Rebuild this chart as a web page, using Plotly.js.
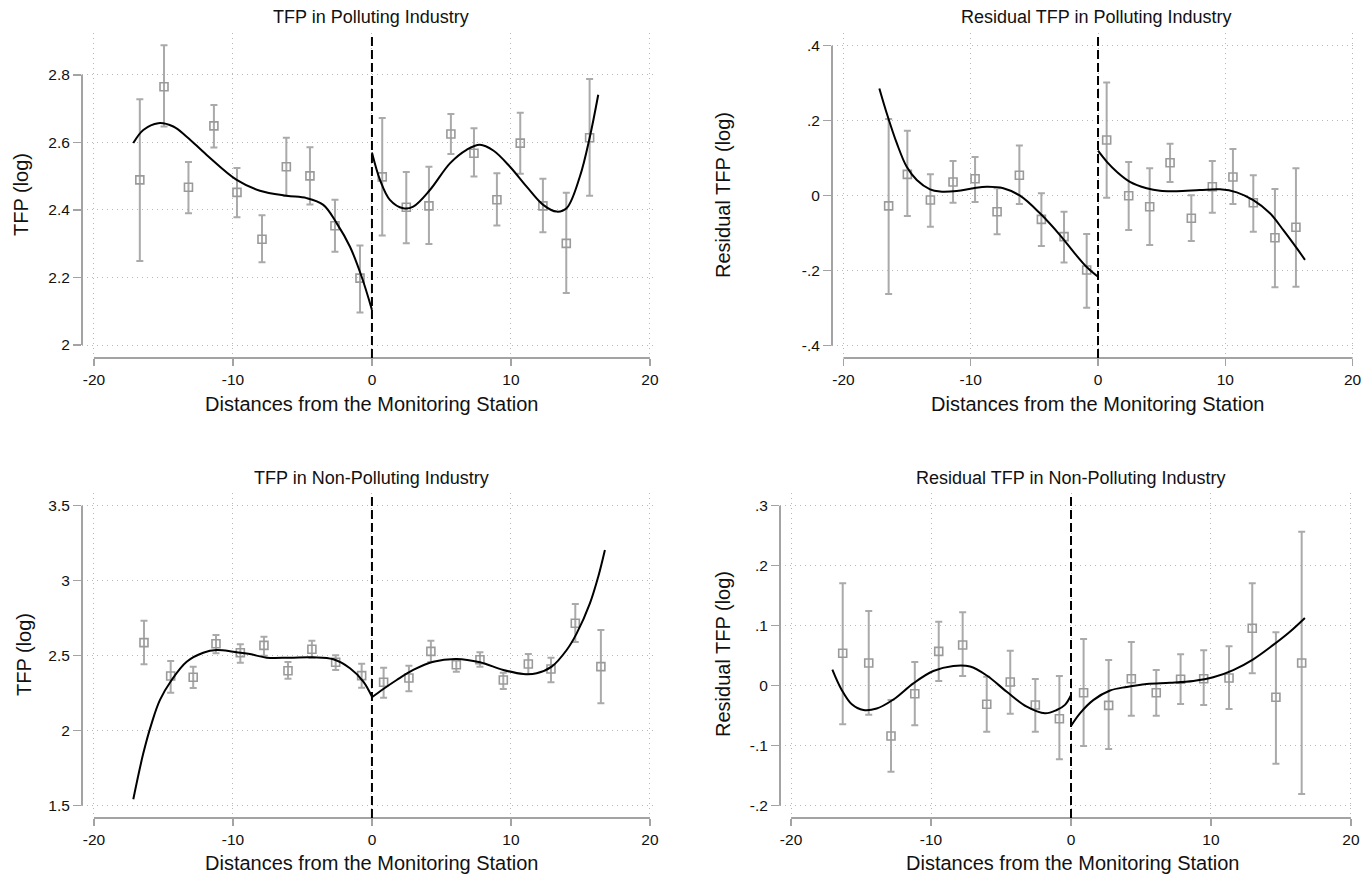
<!DOCTYPE html>
<html>
<head>
<meta charset="utf-8">
<script src="https://cdn.plot.ly/plotly-3.0.1.min.js"></script>
<style>html,body{margin:0;padding:0;background:#fff;}#chart{width:1365px;height:877px;}</style>
</head>
<body>
<div id="chart"></div>
<script>
// ---------- DATA ----------
// Panel 1: TFP in Polluting Industry
const p1_x  = [-16.7, -14.96, -13.2, -11.37, -9.71, -7.91, -6.16, -4.46, -2.66, -0.86, 0.74, 2.47, 4.1, 5.68, 7.34, 8.99, 10.67, 12.3, 13.98, 15.66];
const p1_y  = [2.489, 2.765, 2.467, 2.649, 2.452, 2.313, 2.528, 2.501, 2.353, 2.198, 2.498, 2.408, 2.412, 2.625, 2.568, 2.430, 2.598, 2.412, 2.301, 2.614];
const p1_hi = [2.728, 2.888, 2.542, 2.711, 2.524, 2.384, 2.614, 2.586, 2.430, 2.295, 2.672, 2.512, 2.528, 2.684, 2.642, 2.509, 2.688, 2.492, 2.451, 2.788];
const p1_lo = [2.249, 2.647, 2.390, 2.585, 2.378, 2.245, 2.441, 2.416, 2.276, 2.096, 2.324, 2.301, 2.299, 2.566, 2.499, 2.354, 2.507, 2.334, 2.154, 2.442];
const p1_fitL_x = [-17.17, -16.45, -15.37, -14.29, -13.33, -11.89, -9.73, -8.06, -6.14, -4.7, -3.5, -2.54, -1.58, -0.74, 0];
const p1_fitL_y = [2.598, 2.637, 2.657, 2.647, 2.617, 2.563, 2.489, 2.457, 2.442, 2.435, 2.415, 2.361, 2.291, 2.202, 2.104];
const p1_fitR_x = [0, 0.58, 1.29, 2.25, 2.97, 4.17, 5.61, 6.81, 7.77, 8.73, 9.93, 11.13, 12.32, 13.29, 14.0, 14.96, 15.68, 16.28];
const p1_fitR_y = [2.57, 2.489, 2.430, 2.405, 2.410, 2.459, 2.538, 2.578, 2.593, 2.576, 2.528, 2.469, 2.415, 2.395, 2.405, 2.499, 2.617, 2.741];
const p1_yticks = [2, 2.2, 2.4, 2.6, 2.8];
const p1_ylabels = ["2", "2.2", "2.4", "2.6", "2.8"];

// Panel 2: Residual TFP in Polluting Industry
const p2_x  = [-16.45, -14.98, -13.17, -11.39, -9.66, -7.93, -6.18, -4.45, -2.67, -0.89, 0.68, 2.41, 4.06, 5.66, 7.33, 8.98, 10.6, 12.2, 13.9, 15.55];
const p2_y  = [-0.027, 0.057, -0.0115, 0.0365, 0.0453, -0.0427, 0.0544, -0.063, -0.109, -0.198, 0.1485, 0.0, -0.0293, 0.088, -0.0603, 0.024, 0.0499, -0.0187, -0.112, -0.0843];
const p2_hi = [0.2045, 0.173, 0.057, 0.0925, 0.103, 0.0197, 0.134, 0.0064, -0.0427, -0.102, 0.302, 0.09, 0.073, 0.1387, 0.001, 0.0925, 0.1245, 0.0544, 0.0179, 0.073];
const p2_lo = [-0.262, -0.054, -0.083, -0.0187, -0.0168, -0.103, -0.022, -0.134, -0.178, -0.299, -0.0053, -0.0915, -0.1315, 0.0365, -0.121, -0.0453, -0.0221, -0.096, -0.244, -0.243];
const p2_fitL_x = [-17.18, -16.6, -15.81, -15.03, -14.24, -13.2, -12.41, -11.1, -9.8, -8.74, -7.44, -6.13, -4.56, -2.99, -1.94, -0.89, 0];
const p2_fitL_y = [0.286, 0.22, 0.14, 0.077, 0.042, 0.017, 0.011, 0.0125, 0.02, 0.024, 0.02, 0.0, -0.047, -0.105, -0.149, -0.19, -0.216];
const p2_fitR_x = [0, 0.68, 1.47, 2.51, 3.82, 4.87, 6.18, 8.01, 9.58, 10.9, 12.2, 13.51, 14.56, 15.61, 16.26];
const p2_fitR_y = [0.12, 0.091, 0.064, 0.037, 0.02, 0.013, 0.012, 0.015, 0.017, 0.009, -0.012, -0.047, -0.092, -0.14, -0.171];
const p2_yticks = [-0.4, -0.2, 0, 0.2, 0.4];
const p2_ylabels = ["-.4", "-.2", "0", ".2", ".4"];

// Panel 3: TFP in Non-Polluting Industry
const p3_x  = [-16.4, -14.48, -12.86, -11.22, -9.47, -7.77, -6.04, -4.32, -2.61, -0.74, 0.84, 2.66, 4.24, 6.07, 7.77, 9.45, 11.25, 12.88, 14.63, 16.47];
const p3_y  = [2.587, 2.365, 2.356, 2.58, 2.52, 2.569, 2.4, 2.543, 2.456, 2.367, 2.323, 2.351, 2.529, 2.44, 2.473, 2.338, 2.445, 2.411, 2.716, 2.427];
const p3_hi = [2.733, 2.465, 2.427, 2.638, 2.576, 2.627, 2.458, 2.6, 2.503, 2.447, 2.42, 2.433, 2.6, 2.471, 2.523, 2.387, 2.511, 2.487, 2.845, 2.671];
const p3_lo = [2.443, 2.253, 2.285, 2.516, 2.453, 2.5, 2.347, 2.485, 2.405, 2.287, 2.22, 2.263, 2.458, 2.393, 2.427, 2.278, 2.378, 2.323, 2.591, 2.183];
const p3_fitL_x = [-17.17, -16.45, -15.85, -15.25, -14.41, -13.33, -12.14, -11.17, -9.98, -8.78, -7.58, -5.9, -4.22, -2.78, -1.58, -0.62, 0];
const p3_fitL_y = [1.543, 1.849, 2.049, 2.205, 2.338, 2.46, 2.52, 2.538, 2.527, 2.511, 2.487, 2.487, 2.489, 2.476, 2.416, 2.327, 2.227];
const p3_fitR_x = [0, 0.82, 1.78, 2.97, 4.41, 6.09, 7.77, 9.45, 10.89, 11.85, 12.93, 14.01, 14.73, 15.68, 16.28, 16.76];
const p3_fitR_y = [2.223, 2.278, 2.338, 2.405, 2.46, 2.478, 2.456, 2.405, 2.378, 2.383, 2.427, 2.538, 2.649, 2.849, 3.027, 3.205];
const p3_yticks = [1.5, 2, 2.5, 3, 3.5];
const p3_ylabels = ["1.5", "2", "2.5", "3", "3.5"];

// Panel 4: Residual TFP in Non-Polluting Industry
const p4_x  = [-16.31, -14.45, -12.86, -11.16, -9.45, -7.74, -6.02, -4.34, -2.55, -0.83, 0.9, 2.69, 4.31, 6.09, 7.83, 9.48, 11.29, 12.95, 14.64, 16.48];
const p4_y  = [0.054, 0.0378, -0.0838, -0.0133, 0.0573, 0.0678, -0.031, 0.0062, -0.0322, -0.055, -0.0117, -0.0327, 0.0117, -0.0117, 0.0107, 0.0117, 0.0128, 0.0957, -0.0193, 0.0378];
const p4_hi = [0.1707, 0.1245, -0.0238, 0.0395, 0.1067, 0.1223, 0.015, 0.0583, 0.0112, 0.0162, 0.0778, 0.0428, 0.0728, 0.0262, 0.0523, 0.059, 0.0657, 0.1707, 0.089, 0.2567];
const p4_lo = [-0.0643, -0.0483, -0.1433, -0.066, 0.0078, 0.0162, -0.0767, -0.0467, -0.0767, -0.1227, -0.1005, -0.1055, -0.05, -0.05, -0.0305, -0.0322, -0.0388, 0.0207, -0.13, -0.1805];
const p4_fitL_x = [-17.05, -16.38, -15.66, -14.83, -13.88, -12.69, -11.26, -9.84, -8.41, -7.21, -6.02, -4.59, -3.16, -1.86, -1.02, -0.43, 0];
const p4_fitL_y = [0.027, -0.007, -0.031, -0.0405, -0.038, -0.023, 0.004, 0.0245, 0.033, 0.032, 0.017, -0.01, -0.035, -0.046, -0.0405, -0.032, -0.016];
const p4_fitR_x = [0, 0.64, 1.59, 2.79, 3.98, 5.41, 7.07, 8.74, 10.16, 11.59, 13.02, 14.45, 15.64, 16.71];
const p4_fitR_y = [-0.067, -0.046, -0.024, -0.008, -0.002, 0.003, 0.005, 0.008, 0.014, 0.026, 0.044, 0.068, 0.09, 0.113];
const p4_yticks = [-0.2, -0.1, 0, 0.1, 0.2, 0.3];
const p4_ylabels = ["-.2", "-.1", "0", ".1", ".2", ".3"];

const xticks = [-20, -10, 0, 10, 20];
const xlabels = ["-20", "-10", "0", "10", "20"];

const titles = ["TFP in Polluting Industry", "Residual TFP in Polluting Industry", "TFP in Non-Polluting Industry", "Residual TFP in Non-Polluting Industry"];
const ytitles = ["TFP (log)", "Residual TFP (log)", "TFP (log)", "Residual TFP (log)"];
const xtitle = "Distances from the Monitoring Station";

// ---------- LAYOUT ----------
const W = 1365, H = 877;
const FONT = "Liberation Sans, Arial, Helvetica, sans-serif";
const GRAY = "#a3a3a3";

const panels = [
  {data: [p1_x, p1_y, p1_hi, p1_lo, p1_fitL_x, p1_fitL_y, p1_fitR_x, p1_fitR_y], yt: p1_yticks, yl: p1_ylabels,
   px: [82, 653], py: [33, 358], xr: [-20.86, 20.22], yr: [1.9615, 2.924],
   tpos: [371, 17], xtpos: [372, 404], ytpos: [21, 195]},
  {data: [p2_x, p2_y, p2_hi, p2_lo, p2_fitL_x, p2_fitL_y, p2_fitR_x, p2_fitR_y], yt: p2_yticks, yl: p2_ylabels,
   px: [832, 1355], py: [33, 358], xr: [-20.9, 20.19], yr: [-0.4328, 0.4339],
   tpos: [1096, 17], xtpos: [1098, 404], ytpos: [723, 195]},
  {data: [p3_x, p3_y, p3_hi, p3_lo, p3_fitL_x, p3_fitL_y, p3_fitR_x, p3_fitR_y], yt: p3_yticks, yl: p3_ylabels,
   px: [82, 653], py: [493, 818], xr: [-20.86, 20.22], yr: [1.418, 3.5847],
   tpos: [372, 478], xtpos: [372, 863], ytpos: [24, 655]},
  {data: [p4_x, p4_y, p4_hi, p4_lo, p4_fitL_x, p4_fitL_y, p4_fitR_x, p4_fitR_y], yt: p4_yticks, yl: p4_ylabels,
   px: [780, 1355], py: [493, 818], xr: [-20.79, 20.29], yr: [-0.2205, 0.3212],
   tpos: [1071, 478], xtpos: [1073, 863], ytpos: [723, 654]}
];

const traces = [];
const layout = {
  width: W, height: H,
  margin: {l: 0, r: 0, t: 0, b: 0},
  paper_bgcolor: "#ffffff", plot_bgcolor: "#ffffff",
  showlegend: false,
  font: {family: FONT, color: "#111111"},
  shapes: [], annotations: []
};

const GRID = {showgrid: true, gridcolor: "#b8b8b8", griddash: "1px,4px", gridwidth: 1};

panels.forEach((p, i) => {
  const n = i === 0 ? "" : String(i + 1);
  const xa = "x" + n, ya = "y" + n;
  const [x, y, hi, lo, fLx, fLy, fRx, fRy] = p.data;
  const up = y.map((v, k) => hi[k] - v);
  const dn = y.map((v, k) => v - lo[k]);

  traces.push({
    type: "scatter", mode: "markers", x: x, y: y, xaxis: xa, yaxis: ya,
    marker: {symbol: "square-open", size: 8, color: "#9a9a9a", line: {width: 1.6, color: "#9a9a9a"}},
    error_y: {type: "data", symmetric: false, array: up, arrayminus: dn, color: "#aaaaaa", thickness: 2, width: 3.5},
    hoverinfo: "skip"
  });
  traces.push({type: "scatter", mode: "lines", x: fLx, y: fLy, xaxis: xa, yaxis: ya,
    line: {color: "#000000", width: 2, shape: "spline", smoothing: 1}, hoverinfo: "skip"});
  traces.push({type: "scatter", mode: "lines", x: fRx, y: fRy, xaxis: xa, yaxis: ya,
    line: {color: "#000000", width: 2, shape: "spline", smoothing: 1}, hoverinfo: "skip"});

  layout["xaxis" + n] = Object.assign({
    domain: [p.px[0] / W, p.px[1] / W], anchor: ya, range: p.xr,
    tickmode: "array", tickvals: xticks, ticktext: xlabels,
    ticks: "outside", ticklen: 7, tickwidth: 1.5, tickcolor: GRAY,
    zeroline: false, showline: false, fixedrange: true,
    tickfont: {size: 15.5, family: FONT, color: "#111111"}
  }, GRID);
  layout["yaxis" + n] = Object.assign({
    domain: [1 - p.py[1] / H, 1 - p.py[0] / H], anchor: xa, range: p.yr,
    tickmode: "array", tickvals: p.yt, ticktext: p.yl,
    ticks: "outside", ticklen: 8, tickwidth: 1.5, tickcolor: GRAY,
    zeroline: false, showline: false, fixedrange: true,
    tickfont: {size: 15.5, family: FONT, color: "#111111"}
  }, GRID);

  // axis lines (Stata style: span tick range only)
  layout.shapes.push({type: "line", xref: xa + " domain", yref: ya, x0: 0, x1: 0,
    y0: p.yt[0], y1: p.yt[p.yt.length - 1], line: {color: GRAY, width: 2}});
  layout.shapes.push({type: "line", xref: xa, yref: ya + " domain", x0: xticks[0], x1: xticks[xticks.length - 1],
    y0: 0, y1: 0, line: {color: GRAY, width: 2}});
  // cutoff at the monitoring station
  layout.shapes.push({type: "line", xref: xa, yref: ya + " domain", x0: 0, x1: 0, y0: 0, y1: 1,
    line: {color: "#000000", width: 2, dash: "9px,4px"}, layer: "above"});

  layout.annotations.push({text: titles[i], xref: "paper", yref: "paper", x: p.tpos[0] / W, y: 1 - p.tpos[1] / H,
    xanchor: "center", yanchor: "middle", showarrow: false, font: {size: 18, family: FONT, color: "#111111"}});
  layout.annotations.push({text: xtitle, xref: "paper", yref: "paper", x: p.xtpos[0] / W, y: 1 - p.xtpos[1] / H,
    xanchor: "center", yanchor: "middle", showarrow: false, font: {size: 20, family: FONT, color: "#111111"}});
  layout.annotations.push({text: ytitles[i], xref: "paper", yref: "paper", x: p.ytpos[0] / W, y: 1 - p.ytpos[1] / H,
    xanchor: "center", yanchor: "middle", textangle: -90, showarrow: false, font: {size: 20, family: FONT, color: "#111111"}});
});

Plotly.newPlot("chart", traces, layout, {staticPlot: true, displayModeBar: false});
</script>
</body>
</html>
